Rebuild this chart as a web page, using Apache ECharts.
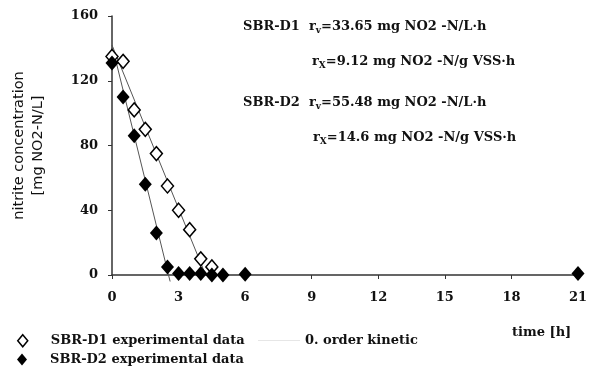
<!DOCTYPE html>
<html>
<head>
<meta charset="utf-8">
<script src="https://cdn.jsdelivr.net/npm/echarts@6/dist/echarts.min.js"></script>
<style>
	html,body{margin:0;padding:0;background:#fff;}
	#chart{width:589px;height:372px;}
</style>
</head>
<body>
<div id="chart"></div>
<script>
	// time [h] / nitrite [mg NO2-N/L]
	var timeD1 = [0, 0.5, 1, 1.5, 2, 2.5, 3, 3.5, 4, 4.5];
	var valD1 = [135, 132, 102, 90, 75, 55, 40, 28, 10, 5];
	var timeD2 = [0, 0.5, 1, 1.5, 2, 2.5, 3, 3.5, 4, 4.5, 5, 6, 21];
	var valD2 = [131, 110, 86, 56, 26, 5, 1, 1, 1, 0, 0, 0.5, 1];
	// 0. order kinetic fits (start / end points)
	var fitD1 = [[0, 142], [4.22, 0]];
	var fitD2 = [[0, 142], [2.62, -4]];
	var xTicks = [0, 3, 6, 9, 12, 15, 18, 21];
	var yTicks = [0, 40, 80, 120, 160];

	function pairs(xs, ys){
		var out = [];
		for(var i=0;i<xs.length;i++){ out.push([xs[i], ys[i]]); }
		return out;
	}

	var chart = echarts.init(document.getElementById('chart'));

	var rich = {
		b:{fontFamily:'DejaVu Serif', fontWeight:'bold', fontSize:13, color:'#111'},
		sub:{fontFamily:'DejaVu Serif', fontWeight:'bold', fontSize:9, color:'#111', padding:[8,0,0,0]}
	};
	function note(x, y, txt){
		return {type:'text', left:x, top:y, style:{text:txt, rich:rich, fill:'#111'}};
	}
	var legendText = {fontFamily:'DejaVu Serif', fontWeight:'bold', fontSize:13, color:'#111'};
	function legendItem(name, x, y, icon, w, h, style, pad){
		return {
			left:x, top:y, itemWidth:w, itemHeight:h,
			textStyle:Object.assign({padding:[0,0,0,pad]}, legendText),
			data:[{name:name, icon:icon, itemStyle:style}]
		};
	}

	var option = {
		animation:false,
		grid:{left:112, right:11, top:16, bottom:97, outerBoundsMode:'none', containLabel:false},
		xAxis:{
			type:'value', min:0, max:21, interval:3,
			axisLine:{lineStyle:{color:'#333', width:1.5}},
			axisTick:{show:true, length:4, lineStyle:{color:'#333'}},
			axisLabel:{margin:16, fontSize:13, fontFamily:'DejaVu Serif', fontWeight:'bold', color:'#111',
				formatter:function(v){ return xTicks.indexOf(v) > -1 ? v : ''; }},
			splitLine:{show:false}
		},
		yAxis:{
			type:'value', min:0, max:160, interval:40,
			axisLine:{show:true, lineStyle:{color:'#333', width:1.5}},
			axisTick:{show:true, length:4, lineStyle:{color:'#333'}},
			axisLabel:{margin:14, fontSize:13, fontFamily:'DejaVu Serif', fontWeight:'bold', color:'#111',
				formatter:function(v){ return yTicks.indexOf(v) > -1 ? v : ''; }},
			splitLine:{show:false},
			name:'nitrite concentration\n[mg NO2-N/L]',
			nameLocation:'middle', nameGap:64, nameRotate:90,
			nameTextStyle:{fontFamily:'DejaVu Sans', fontSize:14.5, color:'#111', lineHeight:19}
		},
		legend:[
			legendItem('SBR-D1 experimental data', 12, 329, 'diamond', 10, 12,
				{color:'#fff', borderColor:'#000', borderWidth:1.5}, 18),
			legendItem('SBR-D2 experimental data', 12, 348, 'diamond', 10, 12,
				{color:'#000', borderWidth:0}, 18),
			legendItem('0. order kinetic', 253, 329, 'rect', 42, 1, {color:'#e6e6e6'}, 0)
		],
		graphic:[
			note(243, 20, '{b|SBR-D1  r}{sub|v}{b|=33.65 mg NO}{b|2 -N/L·h}'),
			note(312, 55, '{b|r}{sub|X}{b|=9.12 mg NO}{b|2 -N/g VSS·h}'),
			note(243, 96, '{b|SBR-D2  r}{sub|v}{b|=55.48 mg NO}{b|2 -N/L·h}'),
			note(313, 131, '{b|r}{sub|X}{b|=14.6 mg NO}{b|2 -N/g VSS·h}'),
			{type:'text', left:512, top:326, style:{text:'time [h]', font:'bold 13px "DejaVu Serif"', fill:'#111'}}
		],
		series:[{
			name:'0. order kinetic', type:'line', data:fitD1, symbol:'none', clip:false,
			lineStyle:{color:'#555', width:1}, z:1
		},{
			name:'0. order kinetic', type:'line', data:fitD2, symbol:'none', clip:false,
			lineStyle:{color:'#555', width:1}, z:1
		},{
			name:'SBR-D1 experimental data', type:'scatter', data:pairs(timeD1, valD1),
			symbol:'diamond', symbolSize:[12,14],
			itemStyle:{color:'#fff', borderColor:'#000', borderWidth:1.5, opacity:1}, z:2
		},{
			name:'SBR-D2 experimental data', type:'scatter', data:pairs(timeD2, valD2),
			symbol:'diamond', symbolSize:[13,15], clip:false,
			itemStyle:{color:'#000', opacity:1}, z:3
		}]
	};
	chart.setOption(option);
</script>
</body>
</html>
